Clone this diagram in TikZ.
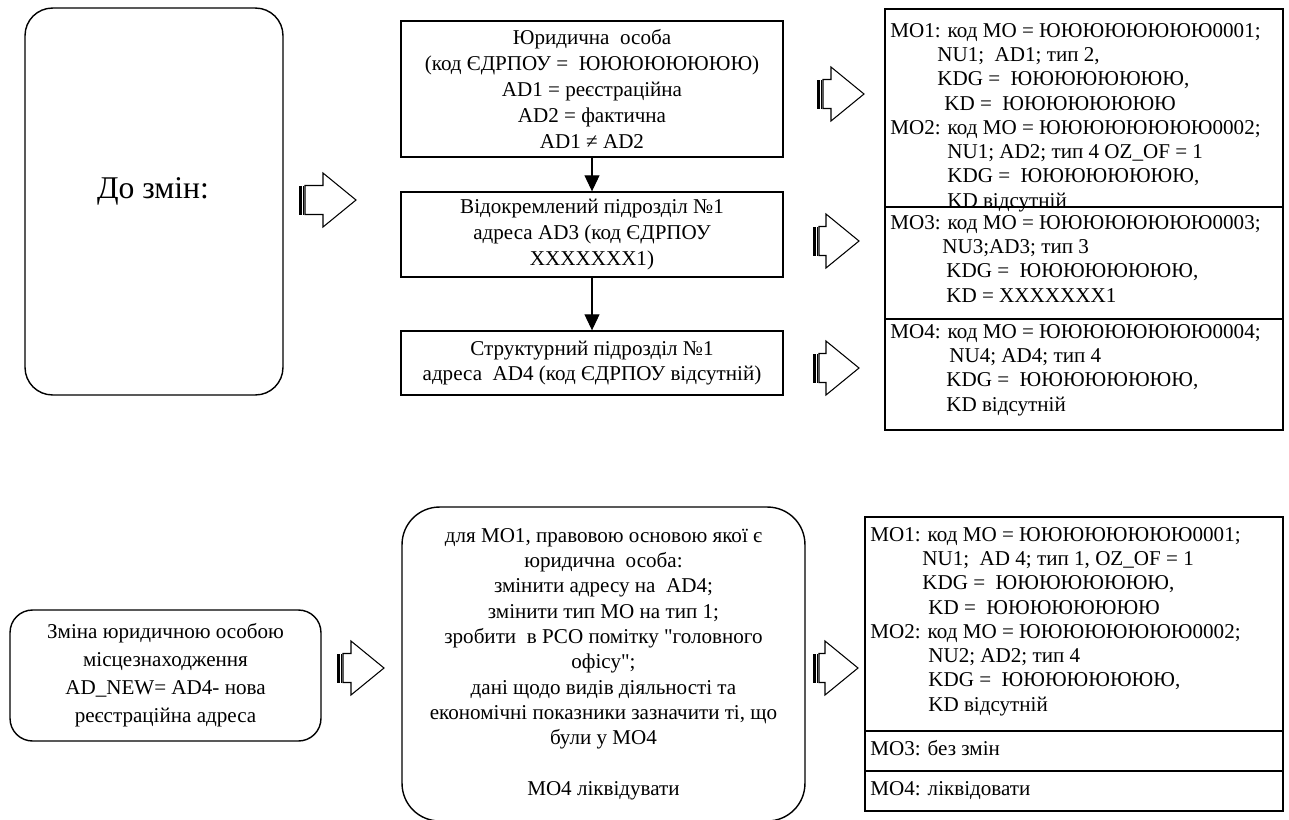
\documentclass[tikz,border=0pt]{standalone}
\usepackage{fontspec}
\setmainfont{Liberation Serif}
\usetikzlibrary{arrows.meta,positioning}
\tikzset{
  framebox/.style={draw,line width=0.8pt,align=center,inner sep=2pt,
    font=\fontsize{12}{14.7}\selectfont},
  roundbox/.style={framebox,rounded corners=0.55cm},
  mobox/.style={draw,line width=0.8pt,inner sep=0pt},
  motext/.style={align=left,inner sep=0pt,anchor=base west,
    font=\fontsize{12}{13.8}\selectfont},
  downarrow/.style={-{Triangle[length=0.32cm,width=0.3cm]},line width=0.6pt},
  hollowarrow/.pic={
    \fill (0,-14.5) rectangle (2.5,14.5);
    \fill (3.5,-14.5) rectangle (5,14.5);
    \draw[line width=0.6pt,fill=white] (6,-14.5) -- (#1,-14.5) -- (#1,-27)
      -- ({#1+33},0) -- (#1,27) -- (#1,14.5) -- (6,14.5) -- cycle;
  }
}
\begin{document}
\begin{tikzpicture}[x=0.02cm,y=-0.02cm]
  \useasboundingbox (0,0) rectangle (1289,819);

  % before the change
  \node[roundbox,minimum width=5.16cm,minimum height=7.74cm] (before) at (154,201.5) {};
  \node[font=\fontsize{18}{20}\selectfont] (beforetext) at (153,191) {До змін:};
  \pic at (299,200) {hollowarrow=24};

  \node[framebox,minimum width=7.64cm,minimum height=2.72cm] (legal) at (592,89)
    {Юридична\ \ особа\\(код ЄДРПОУ =\ \ ЮЮЮЮЮЮЮЮ)\\AD1 = реєстраційна\\AD2 = фактична\\AD1 ≠ AD2};
  \node[framebox,minimum width=7.64cm,minimum height=1.7cm] (branch) at (592,234.5)
    {Відокремлений підрозділ №1\\адреса AD3 (код ЄДРПОУ\\XXXXXXX1)};
  \node[framebox,minimum width=7.64cm,minimum height=1.28cm] (unit) at (592,363)
    {Структурний підрозділ №1\\адреса\ \ AD4 (код ЄДРПОУ відсутній)};
  \draw[downarrow] (legal) -- (branch);
  \draw[downarrow] (branch) -- (unit);

  \pic at (817,94) {hollowarrow=14};
  \pic at (813,241) {hollowarrow=13};
  \pic at (813,368) {hollowarrow=13};

  % last line of each text block sits on the given baseline
  \node[mobox,minimum width=7.96cm,minimum height=3.96cm] (moA) at (1084,108) {};
  \node[mobox,minimum width=7.96cm,minimum height=2.24cm] (moB) at (1084,263) {};
  \node[mobox,minimum width=7.96cm,minimum height=2.22cm] (moC) at (1084,374.5) {};
  \node[motext] (moAtext) at (890,207)
    {МО1: код МО = ЮЮЮЮЮЮЮЮ0001;\\
     \hspace*{0.94cm}NU1;\ \ AD1; тип 2,\\
     \hspace*{0.94cm}KDG =\ \ ЮЮЮЮЮЮЮЮ,\\
     \hspace*{1.08cm}KD =\ \ ЮЮЮЮЮЮЮЮ\\
     МО2: код МО = ЮЮЮЮЮЮЮЮ0002;\\
     \hspace*{1.14cm}NU1; AD2; тип 4 OZ\_OF = 1\\
     \hspace*{1.14cm}KDG =\ \ ЮЮЮЮЮЮЮЮ,\\
     \hspace*{1.14cm}KD відсутній};
  \node[motext] (moBtext) at (890,302)
    {МО3: код МО = ЮЮЮЮЮЮЮЮ0003;\\
     \hspace*{1.04cm}NU3;AD3; тип 3\\
     \hspace*{1.12cm}KDG =\ \ ЮЮЮЮЮЮЮЮ,\\
     \hspace*{1.12cm}KD = XXXXXXX1};
  \node[motext] (moCtext) at (890,411)
    {МО4: код МО = ЮЮЮЮЮЮЮЮ0004;\\
     \hspace*{1.18cm}NU4; AD4; тип 4\\
     \hspace*{1.12cm}KDG =\ \ ЮЮЮЮЮЮЮЮ,\\
     \hspace*{1.12cm}KD відсутній};

  % the change
  \node[roundbox,rounded corners=0.45cm,minimum width=6.22cm,minimum height=2.62cm,
    font=\fontsize{12}{16}\selectfont] (change) at (165.5,675.5)
    {Зміна юридичною особою\\місцезнаходження\\AD\_NEW= AD4- нова\\реєстраційна адреса};
  \pic at (337,668) {hollowarrow=14};
  \node[roundbox,rounded corners=0.75cm,minimum width=8.06cm,minimum height=6.28cm,
    font=\fontsize{12}{14.4}\selectfont] (action) at (603.5,664)
    {для МО1, правовою основою якої є\\юридична\ \ особа:\\змінити адресу на\ \ AD4;\\
     змінити тип МО на тип 1;\\зробити\ \ в РСО помітку \textquotedbl головного\\офісу\textquotedbl;\\
     дані щодо видів діяльності та\\економічні показники зазначити ті, що\\були у МО4\\~\\МО4 ліквідувати};
  \pic at (813,668) {hollowarrow=12};

  \node[mobox,minimum width=8.36cm,minimum height=4.28cm] (afterA) at (1074,624) {};
  \node[mobox,minimum width=8.36cm,minimum height=0.8cm] (afterB) at (1074,751) {};
  \node[mobox,minimum width=8.36cm,minimum height=0.8cm] (afterC) at (1074,791) {};
  \node[motext] (afterAtext) at (870,711)
    {МО1: код МО = ЮЮЮЮЮЮЮЮ0001;\\
     \hspace*{1.04cm}NU1;\ \ AD 4; тип 1, OZ\_OF = 1\\
     \hspace*{1.04cm}KDG =\ \ ЮЮЮЮЮЮЮЮ,\\
     \hspace*{1.16cm}KD =\ \ ЮЮЮЮЮЮЮЮ\\
     МО2: код МО = ЮЮЮЮЮЮЮЮ0002;\\
     \hspace*{1.16cm}NU2; AD2; тип 4\\
     \hspace*{1.16cm}KDG =\ \ ЮЮЮЮЮЮЮЮ,\\
     \hspace*{1.16cm}KD відсутній};
  \node[motext] (afterBtext) at (870,755) {МО3: без змін};
  \node[motext] (afterCtext) at (870,795) {МО4: ліквідовати};
\end{tikzpicture}
\end{document}
